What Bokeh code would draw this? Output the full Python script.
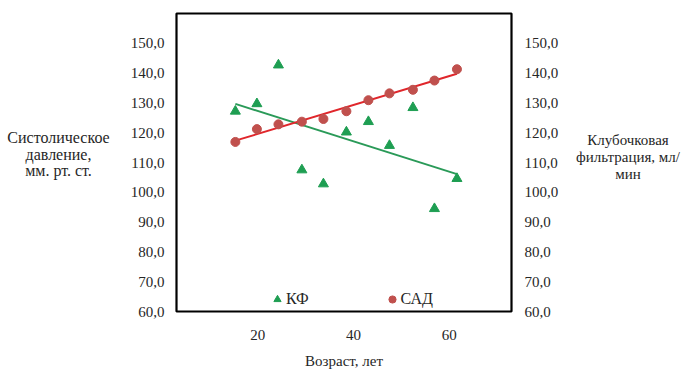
import numpy as np
from bokeh.plotting import figure
from bokeh.layouts import row
from bokeh.models import (LinearAxis, FixedTicker, Legend, LegendItem, Range1d, Div)
from bokeh.embed import file_html
from bokeh.resources import INLINE

# ---- data ----
age = [15.3, 19.8, 24.3, 29.2, 33.7, 38.5, 43.1, 47.5, 52.4, 56.9, 61.6]
kf = [127.2, 129.7, 142.7, 107.5, 102.8, 120.2, 123.7, 115.7, 128.4, 94.5, 104.6]
sad = [116.9, 121.2, 122.8, 123.7, 124.6, 127.2, 130.9, 133.2, 134.4, 137.5, 141.3]
y_ticks = [60, 70, 80, 90, 100, 110, 120, 130, 140, 150]
x_ticks = [20, 40, 60]
y_tick_labels = {t: f"{t},0" for t in y_ticks}
x_tick_labels = {t: str(t) for t in x_ticks}
left_title = ["Систолическое", "давление,", "мм. рт. ст."]
right_title = ["Клубочковая", "фильтрация, мл/", "мин"]
x_title = "Возраст, лет"

FONT = "Liberation Serif"
GREEN_M = "#1e9e52"
GREEN_L = "#2a9a58"
RED_M = "#c0504d"
RED_L = "#e0262b"
TXT = "#262626"
H = 371

p = figure(width=460, height=H, output_backend="svg", toolbar_location=None,
           x_range=Range1d(3, 73), y_range=Range1d(60, 160),
           min_border_left=61, min_border_right=64, min_border_top=13, min_border_bottom=53)
p.xaxis.visible = False
p.yaxis.visible = False
p.xgrid.visible = False
p.ygrid.visible = False
p.outline_line_color = "black"
p.outline_line_width = 2.2
p.outline_line_alpha = 1
p.background_fill_color = "white"
p.border_fill_color = "white"

def style_axis(ax, ticks, labels, standoff):
    ax.ticker = FixedTicker(ticks=ticks)
    ax.major_label_overrides = labels
    ax.axis_line_color = None
    ax.major_tick_line_color = None
    ax.minor_tick_line_color = None
    ax.major_tick_out = 0
    ax.major_tick_in = 0
    ax.major_label_standoff = standoff
    ax.major_label_text_font = FONT
    ax.major_label_text_font_size = "15px"
    ax.major_label_text_color = TXT

ly = LinearAxis()
style_axis(ly, y_ticks, y_tick_labels, 12)
p.add_layout(ly, "left")

ry = LinearAxis()
style_axis(ry, y_ticks, y_tick_labels, 13)
p.add_layout(ry, "right")

bx = LinearAxis()
style_axis(bx, x_ticks, x_tick_labels, 18)
bx.axis_label = x_title
bx.axis_label_standoff = 10
bx.axis_label_text_font = FONT
bx.axis_label_text_font_size = "15px"
bx.axis_label_text_font_style = "normal"
bx.axis_label_text_color = TXT
p.add_layout(bx, "below")

# trend lines computed from the series
ax_arr = np.array(age)
xs = np.array([ax_arr.min(), ax_arr.max()])
k_fit = np.polyval(np.polyfit(ax_arr, np.array(kf), 1), xs)
s_fit = np.polyval(np.polyfit(ax_arr, np.array(sad), 1), xs)
p.line(xs, k_fit, line_color=GREEN_L, line_width=2)
p.line(xs, s_fit, line_color=RED_L, line_width=2)

r_kf = p.scatter(age, kf, marker="triangle", size=10, fill_color=GREEN_M, line_color=GREEN_M)
r_sad = p.scatter(age, sad, marker="circle", size=9, fill_color=RED_M, line_color=RED_M)

legend = Legend(items=[LegendItem(label="КФ", renderers=[r_kf]),
                       LegendItem(label="САД", renderers=[r_sad])],
                orientation="horizontal", location=(92, 3),
                glyph_width=18, glyph_height=18, label_standoff=-2, spacing=74,
                padding=0, margin=0, border_line_color=None, background_fill_alpha=0,
                label_text_font=FONT, label_text_font_size="16px", label_text_color=TXT)
p.add_layout(legend, "center")

def side_div(width, inner_w, lines, top, size, lh):
    html = ("<div style=\"margin:0; padding:%dpx 0 0 0; width:%dpx; text-align:center; "
            "white-space:nowrap; font-family:'Liberation Serif'; font-size:%s; "
            "line-height:%s; color:%s;\">%s</div>"
            % (top, inner_w, size, lh, TXT, "<br>".join(lines)))
    return Div(text=html, width=width, height=H, margin=0)

left = side_div(115, 117, left_title, 130, "16px", "16.5px")
right = side_div(106, 106, right_title, 132, "15px", "17px")

layout = row(left, p, right, spacing=0)
open("out.html", "w").write(file_html(layout, INLINE))
